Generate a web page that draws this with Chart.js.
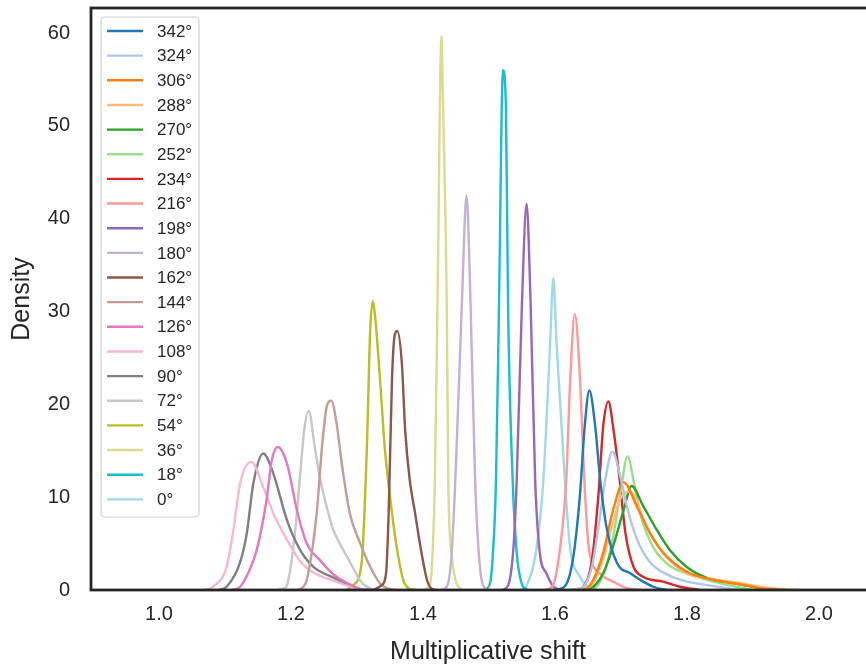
<!DOCTYPE html>
<html>
<head>
<meta charset="utf-8">
<script src="https://cdn.jsdelivr.net/npm/chart.js@4.4.0/dist/chart.umd.min.js"></script>
<style>
  html, body { margin: 0; padding: 0; background: #fff; overflow: hidden; }
  #wrap { width: 900px; height: 671px; }
</style>
</head>
<body>
<div id="wrap"><canvas id="kdeChart" width="900" height="671"></canvas></div>
<script>
// legend order, top to bottom
const labels = ['342°', '324°', '306°', '288°', '270°', '252°', '234°', '216°', '198°', '180°',
                '162°', '144°', '126°', '108°', '90°', '72°', '54°', '36°', '18°', '0°'];
const colors = ['#1f77b4', '#aec7e8', '#ff7f0e', '#ffbb78', '#2ca02c', '#98df8a', '#d62728', '#ff9896', '#9467bd', '#c5b0d5',
                '#8c564b', '#c49c94', '#e377c2', '#f7b6d2', '#7f7f7f', '#c7c7c7', '#bcbd22', '#dbdb8d', '#17becf', '#9edae5'];

const xTicks = [1.0, 1.2, 1.4, 1.6, 1.8, 2.0];
const yTicks = [0, 10, 20, 30, 40, 50, 60];

// density curves: [shift, density]
const d342 = [[1.600,0],[1.615,0.4],[1.623,1.8],[1.630,4.7],[1.638,10.4],[1.645,17.6],[1.652,21.5],[1.661,17.6],[1.668,12.2],[1.678,6.8],[1.694,2.9],[1.714,1.8],[1.729,1.1],[1.749,0.35],[1.770,0]];
const d324 = [[1.620,0],[1.635,0.15],[1.643,0.35],[1.656,2.5],[1.666,6.8],[1.676,11.8],[1.687,14.9],[1.699,12.2],[1.709,9.0],[1.724,5.5],[1.744,3.0],[1.772,1.6],[1.800,0.9],[1.825,0.6],[1.850,0.3],[1.880,0]];
const d306 = [[1.635,0],[1.648,0.2],[1.658,1.1],[1.673,4.0],[1.688,8.6],[1.704,11.6],[1.724,9.0],[1.744,6.1],[1.764,4.0],[1.799,2.0],[1.840,1.1],[1.890,0.5],[1.910,0.2],[1.950,0]];
const d288 = [[1.635,0],[1.650,0.2],[1.660,1.0],[1.675,3.8],[1.690,7.8],[1.700,10.0],[1.714,10.6],[1.739,6.8],[1.764,4.0],[1.799,1.8],[1.840,1.15],[1.875,0.8],[1.910,0.35],[1.940,0.1],[1.970,0]];
const d270 = [[1.645,0],[1.658,0.35],[1.673,1.8],[1.688,4.7],[1.704,8.6],[1.716,11.2],[1.734,9.0],[1.754,6.5],[1.774,4.3],[1.799,2.5],[1.830,1.3],[1.865,0.8],[1.900,0.35],[1.930,0.05],[1.950,0]];
const d252 = [[1.640,0],[1.655,0.1],[1.663,0.35],[1.676,2.2],[1.688,5.7],[1.699,10.4],[1.710,14.4],[1.719,11.8],[1.730,8.0],[1.749,4.6],[1.774,2.6],[1.799,1.8],[1.835,1.0],[1.875,0.35],[1.900,0]];
const d234 = [[1.625,0],[1.636,0.1],[1.643,0.35],[1.656,3.2],[1.666,10.4],[1.673,17.6],[1.681,20.3],[1.688,17.6],[1.697,12.5],[1.707,6.0],[1.719,2.5],[1.734,1.4],[1.764,0.9],[1.789,0.35],[1.820,0]];
const d216 = [[1.585,0],[1.597,0.5],[1.608,4.7],[1.617,11.8],[1.623,22.6],[1.630,29.7],[1.638,22.6],[1.644,12.5],[1.651,4.7],[1.668,1.8],[1.688,0.9],[1.709,0.2],[1.730,0]];
const d198 = [[1.520,0],[1.529,0.5],[1.537,4.5],[1.542,11.8],[1.550,31],[1.557,41.6],[1.563,31],[1.570,11.8],[1.577,4.0],[1.587,1.8],[1.597,0.4],[1.610,0]];
const d180 = [[1.430,0],[1.438,0.7],[1.443,3.5],[1.449,11.8],[1.459,31],[1.466,42.5],[1.472,31],[1.479,11.8],[1.485,3.5],[1.491,0.5],[1.500,0]];
const d162 = [[1.325,0],[1.337,0.5],[1.344,1.8],[1.348,8.3],[1.353,22.6],[1.357,27.4],[1.361,27.9],[1.368,24.4],[1.373,17.2],[1.380,11.8],[1.388,8.3],[1.396,4.7],[1.406,1.1],[1.412,0.2],[1.420,0]];
const d144 = [[1.210,0],[1.218,0.3],[1.224,1.1],[1.239,8.3],[1.247,15.4],[1.254,19.7],[1.261,20.4],[1.269,18.0],[1.277,13.6],[1.289,8.3],[1.305,5.0],[1.320,2.5],[1.335,0.7],[1.345,0.2],[1.360,0]];
const d126 = [[1.110,0],[1.123,0.35],[1.135,1.8],[1.148,4.3],[1.163,9.7],[1.171,14.0],[1.180,15.4],[1.194,13.6],[1.209,8.6],[1.224,5.0],[1.244,3.2],[1.264,1.7],[1.289,0.6],[1.305,0.1],[1.320,0]];
const d108 = [[1.070,0],[1.082,0.35],[1.1025,2.5],[1.112,6.1],[1.123,11.5],[1.140,13.8],[1.158,11.1],[1.173,8.3],[1.194,5.4],[1.214,3.1],[1.233,1.9],[1.264,1.0],[1.284,0.5],[1.300,0.1],[1.310,0]];
const d90  = [[1.090,0],[1.1025,0.35],[1.123,3.0],[1.133,6.1],[1.143,11.5],[1.158,14.7],[1.173,12.6],[1.194,7.5],[1.214,4.3],[1.234,2.5],[1.264,1.35],[1.289,0.5],[1.305,0.1],[1.320,0]];
const d72  = [[1.180,0],[1.190,0.2],[1.194,0.5],[1.206,6.1],[1.214,12.5],[1.220,17.2],[1.227,19.3],[1.236,15.4],[1.244,12.0],[1.254,9.0],[1.264,6.5],[1.274,5.0],[1.284,3.7],[1.294,2.4],[1.305,1.0],[1.315,0.35],[1.330,0]];
const d54  = [[1.285,0],[1.294,0.5],[1.307,2.9],[1.315,15.4],[1.320,28.0],[1.324,31.1],[1.327,29.8],[1.335,22.6],[1.342,15.4],[1.350,10.1],[1.360,4.7],[1.370,1.1],[1.378,0.2],[1.390,0]];
const d36  = [[1.400,0],[1.411,0.7],[1.4145,4.0],[1.418,11.8],[1.422,31],[1.428,59.7],[1.430,53.5],[1.436,31],[1.4383,11.8],[1.444,3.5],[1.451,0.7],[1.460,0]];
const d18  = [[1.493,0],[1.5015,0.7],[1.506,4.0],[1.5106,11.8],[1.5152,31],[1.5212,56],[1.5257,52],[1.5288,31],[1.5359,11.8],[1.542,4.0],[1.5495,0.7],[1.558,0]];
const d0   = [[1.548,0],[1.557,0.5],[1.572,4.5],[1.5823,11.8],[1.5924,26.2],[1.5975,33.6],[1.6026,26.2],[1.615,11.8],[1.6227,4.7],[1.638,1.4],[1.653,0.2],[1.665,0]];

const series = [d342, d324, d306, d288, d270, d252, d234, d216, d198, d180,
                d162, d144, d126, d108, d90, d72, d54, d36, d18, d0];

const ink = '#262626';
const family = '"Liberation Sans", Arial, sans-serif';

// frame (all four spines) and the boxed legend in the upper left
const frameAndLegend = {
  id: 'frameAndLegend',
  beforeDraw(chart) {
    const ctx = chart.ctx;
    ctx.save();
    ctx.fillStyle = '#fff';
    ctx.fillRect(0, 0, chart.width, chart.height);
    ctx.restore();
  },
  afterDatasetsDraw(chart) {
    const { ctx, chartArea: a } = chart;
    ctx.save();
    ctx.strokeStyle = ink;
    ctx.lineWidth = 2.8;
    ctx.strokeRect(a.left, a.top, a.right - a.left, a.bottom - a.top);

    const bx = a.left + 10, by = a.top + 9, bw = 98, rowH = 24.65;
    const bh = rowH * chart.data.datasets.length + 7;
    ctx.beginPath();
    if (ctx.roundRect) ctx.roundRect(bx, by, bw, bh, 4); else ctx.rect(bx, by, bw, bh);
    ctx.fillStyle = 'rgba(255,255,255,0.8)';
    ctx.fill();
    ctx.strokeStyle = '#d0d0d0';
    ctx.lineWidth = 1.2;
    ctx.stroke();

    ctx.font = '17px ' + family;
    ctx.textBaseline = 'middle';
    chart.data.datasets.forEach((ds, i) => {
      const y = by + 14 + i * rowH;
      ctx.strokeStyle = ds.borderColor;
      ctx.lineWidth = 2.4;
      ctx.beginPath();
      ctx.moveTo(bx + 6, y);
      ctx.lineTo(bx + 42, y);
      ctx.stroke();
      ctx.fillStyle = ink;
      ctx.fillText(ds.label, bx + 56, y + 1);
    });
    ctx.restore();
  }
};

const datasets = labels.map((lab, i) => ({
  label: lab,
  data: series[i].map(p => ({ x: p[0], y: p[1] })),
  borderColor: colors[i],
  backgroundColor: colors[i],
  borderWidth: 2.4,
  pointRadius: 0,
  fill: false,
  cubicInterpolationMode: 'monotone'
}));

new Chart(document.getElementById('kdeChart').getContext('2d'), {
  type: 'line',
  data: { datasets: datasets },
  options: {
    responsive: false,
    animation: false,
    events: [],
    layout: { padding: { left: 0, top: 8, right: 15, bottom: 0 } },
    scales: {
      x: {
        type: 'linear',
        min: 0.897,
        max: 2.1,
        grid: { display: false, drawTicks: false },
        border: { display: false },
        afterBuildTicks: s => { s.ticks = xTicks.map(v => ({ value: v })); },
        afterFit: s => { s.height = 81; s.paddingLeft = 0; s.paddingRight = 0; },
        ticks: {
          padding: 12,
          color: ink,
          maxRotation: 0,
          autoSkip: false,
          font: { family: family, size: 20 },
          callback: v => Number(v).toFixed(1)
        },
        title: {
          display: true,
          text: 'Multiplicative shift',
          color: ink,
          font: { family: family, size: 25 },
          padding: { top: 0, bottom: 4 }
        }
      },
      y: {
        type: 'linear',
        min: 0,
        max: 62.7,
        grid: { display: false, drawTicks: false },
        border: { display: false },
        afterBuildTicks: s => { s.ticks = yTicks.map(v => ({ value: v })); },
        afterFit: s => { s.width = 91; s.paddingTop = 0; s.paddingBottom = 0; },
        ticks: {
          padding: 21,
          color: ink,
          font: { family: family, size: 20 },
          callback: v => String(v)
        },
        title: {
          display: true,
          text: 'Density',
          color: ink,
          font: { family: family, size: 25 },
          padding: { top: 7, bottom: 0 }
        }
      }
    },
    plugins: {
      legend: { display: false },
      tooltip: { enabled: false }
    }
  },
  plugins: [frameAndLegend]
});
</script>
</body>
</html>
